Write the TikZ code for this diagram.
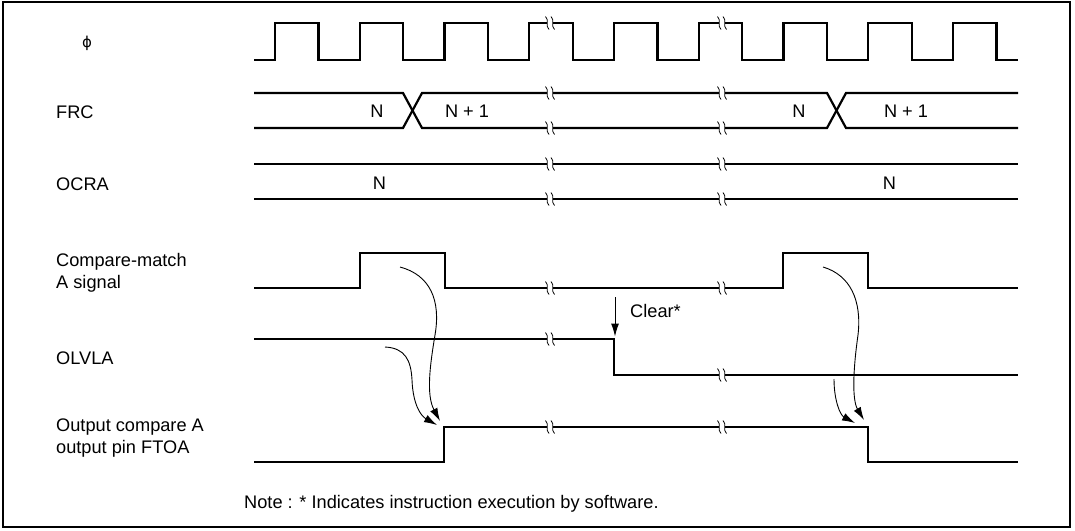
\documentclass[tikz,border=0pt]{standalone}
\usepackage{fontspec}
\setmainfont{Liberation Sans}
\newfontfamily\symfont{DejaVu Sans}
\usetikzlibrary{arrows.meta}

\begin{document}
\begin{tikzpicture}[x=1pt, y=-1pt,
    every node/.style={font=\fontsize{18.2}{22.6}\selectfont, inner sep=0pt},
    sig/.style={line width=2.2pt, line join=miter},
    flow/.style={line width=0.9pt, -{Latex[length=13pt, width=8pt]}},
    brk/.pic={
      \fill[white] (-2.6,-2.5) rectangle (2.6,2.5);
      \draw[line width=0.8pt] (-4.5,-6.5) .. controls (-0.5,-3) and (-5,3) .. (-1,6.5);
      \draw[line width=0.8pt] (1,-6.5) .. controls (5,-3) and (0.5,3) .. (4.5,6.5);
    }]
  \useasboundingbox (0,0) rectangle (1075,530);
  % frame
  \draw[line width=2pt] (3,2) rectangle (1070,527);

  % signal names
  \node[font=\symfont\fontsize{15}{18}\selectfont] (lPhi) at (87,43) {ϕ};
  \node[anchor=base west] (lFrc) at (56,118) {FRC};
  \node[anchor=base west] (lOcra) at (56,190) {OCRA};
  \node[anchor=base west] (lCmp1) at (56,266) {Compare-match};
  \node[anchor=base west] (lCmp2) at (56,288.6) {A signal};
  \node[anchor=base west] (lOlv) at (56,364) {OLVLA};
  \node[anchor=base west] (lOut1) at (56,431) {Output compare A};
  \node[anchor=base west] (lOut2) at (56,453.6) {output pin FTOA};

  % clock phi
  \draw[sig] (254,60) \foreach \k in {0,...,8} {
      -- ({275+84.75*\k},60) -- ++(0,-37) -- ++(43.5,0) -- ++(0,37)} -- (1018,60);

  % FRC count
  \draw[sig] (254,93) -- (403,93) -- (422,128) -- (827,128) -- (846,93) -- (1018,93);
  \draw[sig] (254,128) -- (403,128) -- (422,93) -- (827,93) -- (846,128) -- (1018,128);
  \node[anchor=base] (frcA) at (377,117.5) {N};
  \node[anchor=base] (frcB) at (467,117.5) {N + 1};
  \node[anchor=base] (frcC) at (799,117.5) {N};
  \node[anchor=base] (frcD) at (906,117.5) {N + 1};

  % OCRA value
  \draw[sig] (254,164) -- (1018,164);
  \draw[sig] (254,199) -- (1018,199);
  \node[anchor=base] (ocrA) at (379.5,189) {N};
  \node[anchor=base] (ocrB) at (889.5,189) {N};

  % compare-match A
  \draw[sig] (254,288) -- (360,288) -- (360,253) -- (445,253) -- (445,288)
    -- (783,288) -- (783,253) -- (868,253) -- (868,288) -- (1018,288);

  % OLVLA
  \draw[sig] (254,339) -- (614,339) -- (614,375) -- (1018,375);

  % FTOA output
  \draw[sig] (254,462) -- (444,462) -- (444,427) -- (868,427) -- (868,462) -- (1018,462);

  % time breaks
  \foreach \x in {550,722}
    \foreach \y in {23,93,128,164,199,288,427}
      \pic at (\x,\y) {brk};
  \pic at (550,339) {brk};
  \pic at (722,375) {brk};

  % software clear
  \coordinate (clrTop) at (615,297);
  \coordinate (olvFall) at (615,339);
  \draw[line width=1pt, -{Latex[length=13pt, width=8pt]}, shorten >=2.5pt] (clrTop) -- (olvFall);
  \node[anchor=base west] (clr) at (630,317) {Clear*};

  % cause and effect
  \coordinate (cmRise) at (400,267);
  \coordinate (olvHi) at (385,347);
  \coordinate (outRise1) at (440,421);
  \coordinate (outRise2) at (437,425);
  \draw[flow] (cmRise) .. controls (430,275) and (441,300) .. (435,335)
    .. controls (430,365) and (426,395) .. (outRise1);
  \draw[flow] (olvHi) .. controls (405,348) and (411,360) .. (412,380)
    .. controls (413,405) and (421,416) .. (outRise2);
  \coordinate (cmFall) at (823,267);
  \coordinate (olvLo) at (834,379);
  \coordinate (outFall1) at (864,420);
  \coordinate (outFall2) at (855,423);
  \draw[flow] (cmFall) .. controls (850,275) and (862,300) .. (858,335)
    .. controls (853,370) and (852,400) .. (outFall1);
  \draw[flow] (olvLo) .. controls (834,400) and (840,415) .. (outFall2);

  % footnote
  \node[anchor=base west] (note) at (244,508) {Note : * Indicates instruction execution by software.};
\end{tikzpicture}
\end{document}
